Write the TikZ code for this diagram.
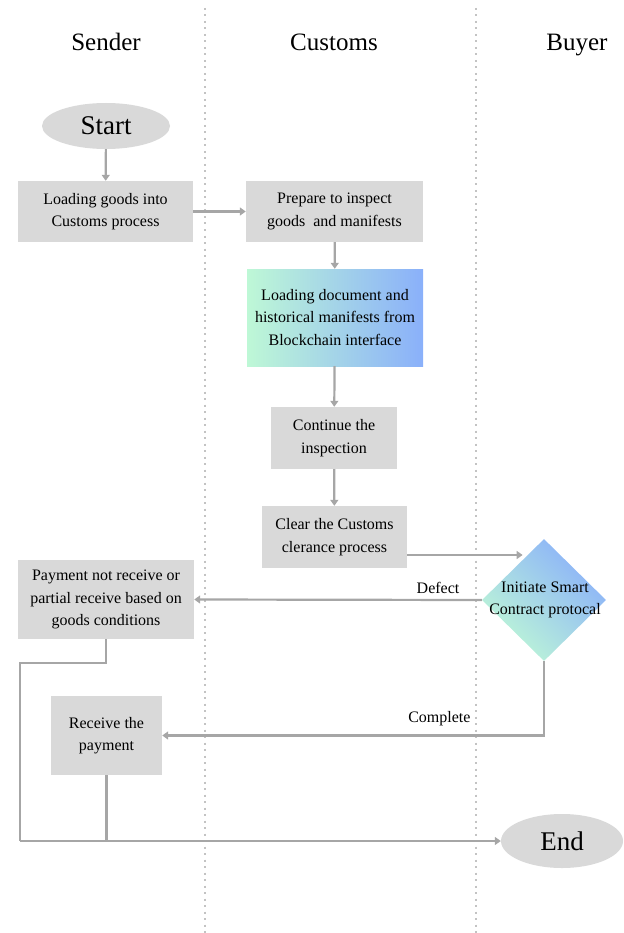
\documentclass[tikz,border=0pt]{standalone}
\usepackage{fontspec}
\setmainfont{Liberation Serif}
\usetikzlibrary{shapes.geometric,arrows.meta,calc}
\definecolor{boxgray}{RGB}{217,217,217}
\definecolor{linegray}{RGB}{166,166,166}
\definecolor{lanegray}{RGB}{195,195,195}
\definecolor{gradgreen}{RGB}{190,248,214}
\definecolor{gradblue}{RGB}{138,176,250}
\begin{document}
\begin{tikzpicture}[x=1pt,y=-1pt,
  procbox/.style={fill=boxgray,draw=none,align=center,font=\fontsize{16}{22.5}\selectfont,inner sep=0pt},
  term/.style={ellipse,fill=boxgray,draw=none,font=\fontsize{27}{28}\selectfont,inner sep=0pt},
  header/.style={font=\fontsize{25}{28}\selectfont,anchor=base},
  arr/.style={draw=linegray,line width=2.2pt,-{Triangle[length=6pt,width=8pt]}},
  conn/.style={draw=linegray,line width=2.2pt},
  lane/.style={draw=lanegray,line width=2pt,dash pattern=on 2pt off 4.5pt},
  lbl/.style={font=\fontsize{16}{18}\selectfont}
]
\useasboundingbox (0,0) rectangle (623,933);
% lanes
\coordinate (l1t) at (205,8);
\coordinate (l1b) at (205,933);
\coordinate (l2t) at (476,8);
\coordinate (l2b) at (476,933);
\draw[lane] (l1t) -- (l1b);
\draw[lane] (l2t) -- (l2b);
% headers
\node[header] (hs) at (106,51) {Sender};
\node[header] (hc) at (334,51) {Customs};
\node[header] (hb) at (577,51) {Buyer};
% nodes
\node[term,minimum width=128pt,minimum height=46pt] (start) at (106,126) {Start};
\node[procbox,minimum width=175pt,minimum height=61pt] (b1) at (105.5,211.5) {Loading goods into\\Customs process};
\node[procbox,minimum width=177pt,minimum height=61pt] (b2) at (334.5,211.5) {Prepare to inspect\\goods\ \ and manifests};
\node[procbox,fill=none,left color=gradgreen,right color=gradblue,minimum width=176pt,minimum height=97pt] (b3) at (335,317.5) {Loading document and\\historical manifests from\\Blockchain interface};
\node[procbox,minimum width=126pt,minimum height=62pt] (b4) at (334,438) {Continue the\\inspection};
\node[procbox,minimum width=145pt,minimum height=62pt] (b5) at (334.5,537) {Clear the Customs\\clerance process};
\node[diamond,draw=none,left color=gradgreen,right color=gradblue,shading angle=135,minimum width=124pt,minimum height=122pt,inner sep=0pt] (dia) at (544,600) {};
\node[font=\fontsize{16}{22.5}\selectfont,align=center] (diat) at (545,600) {Initiate Smart\\Contract protocal};
\node[procbox,minimum width=176pt,minimum height=79pt] (b6) at (106,599.5) {Payment not receive or\\partial receive based on\\goods conditions};
\node[procbox,minimum width=111pt,minimum height=79pt] (b7) at (106.5,735.5) {Receive the\\payment};
\node[term,minimum width=122pt,minimum height=54pt] (end) at (562,841) {End};
% connectors
\draw[arr] (start) -- (b1);
\draw[arr] (b1) -- (b2);
\draw[arr] (b2) -- (b3);
\draw[arr] (b3) -- (b4);
\draw[arr] (b4) -- (b5);
\coordinate (b5o) at ([yshift=-18pt]b5.east);
\draw[arr] (b5o) -- (b5o -| dia.118);
\draw[arr] (dia.west) -- (b6.east) node[lbl,pos=0.0,anchor=south east,xshift=-18pt,yshift=2pt] (ldef) {Defect};
\coordinate (c1) at (dia.south |- b7.east);
\draw[arr] (dia.south) -- (c1) -- (b7.east);
\node[lbl,anchor=south east] (lcom) at (474,729) {Complete};
\coordinate (c2) at (20,663);
\coordinate (c3) at (20,841);
\draw[conn] (b6.south) -- (b6.south |- c2) -- (c2) -- (c3);
\draw[arr] (c3) -- (end.west);
\draw[conn] (b7.south) -- (b7.south |- c3);
\end{tikzpicture}
\end{document}
